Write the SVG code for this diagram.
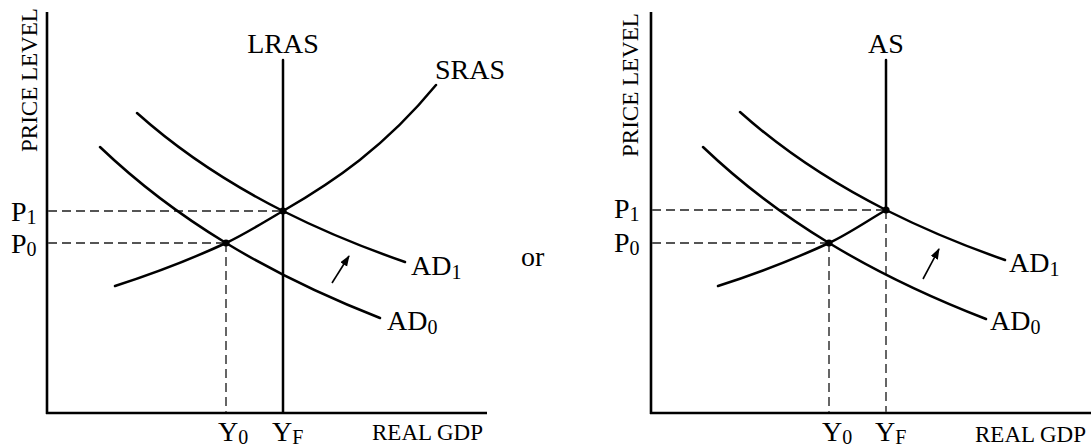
<svg xmlns="http://www.w3.org/2000/svg" width="1091" height="447" viewBox="0 0 1091 447">
<style>
.ax{stroke:#000;stroke-width:2.6;fill:none}
.cv{stroke:#000;stroke-width:2.5;fill:none;stroke-linecap:round}
.ds{stroke:#555;stroke-width:1.8;fill:none;stroke-dasharray:9 5}
.ar{stroke:#000;stroke-width:1.6;fill:none;marker-end:url(#ah)}
.lb{font-family:"Liberation Serif","Times New Roman",serif;font-size:28px;fill:#000}
.sm{font-family:"Liberation Serif","Times New Roman",serif;font-size:23px;fill:#000}
.sub{font-size:20px}
</style>
<defs>
<marker id="ah" markerUnits="userSpaceOnUse" markerWidth="12" markerHeight="10" refX="10" refY="4" orient="auto">
<path d="M0,0 L11,4 L0,8 Z" fill="#000"/>
</marker>
</defs>
<rect width="1091" height="447" fill="#fff"/>

<g id="left-graph">
<g id="left-axes">
<line class="ax" x1="47" y1="12" x2="47" y2="414"/>
<line class="ax" x1="46" y1="413" x2="487" y2="413"/>
<text class="sm" transform="translate(37,152) rotate(-90)">PRICE LEVEL</text>
<text class="sm" x="372" y="440">REAL GDP</text>
</g>
<g id="left-connectors">
<line class="ds" x1="48" y1="211" x2="283" y2="211"/>
<line class="ds" x1="48" y1="243" x2="226" y2="243"/>
<line class="ds" x1="226" y1="243" x2="226" y2="412"/>
<line class="cv" x1="283" y1="60" x2="283" y2="412"/>
<path class="cv" d="M115,286 C152,274.1 189,260.2 226,243 C245,234.2 264,222 283,211 C334,181.5 385,147 436,85"/>
<path class="cv" d="M137,113 C185.7,156.5 234.3,186.4 283,211 C323.7,231.5 364.3,247.9 405,262"/>
<path class="cv" d="M100,147 C142,187.1 184,217.5 226,243 C277.3,274.2 328.7,298 380,318"/>
<line class="ar" x1="332" y1="283" x2="349" y2="256"/>
<circle cx="226" cy="243" r="3.6"/>
<circle cx="283" cy="211" r="3.6"/>
</g>
<g id="left-labels">
<text class="lb" x="283" y="53" text-anchor="middle">LRAS</text>
<text class="lb" x="435" y="79">SRAS</text>
<text class="lb" x="11" y="221">P<tspan class="sub" dy="3">1</tspan></text>
<text class="lb" x="11" y="253">P<tspan class="sub" dy="3">0</tspan></text>
<text class="lb" x="411" y="275">AD<tspan class="sub" dy="4">1</tspan></text>
<text class="lb" x="387" y="330">AD<tspan class="sub" dy="4">0</tspan></text>
<text class="lb" x="218" y="441">Y<tspan class="sub" dy="3">0</tspan></text>
<text class="lb" x="272" y="441">Y<tspan class="sub" dy="3">F</tspan></text>
</g>
</g>

<g id="or-label">
<text class="lb" x="521" y="266">or</text>
</g>

<g id="right-graph">
<g id="right-axes">
<line class="ax" x1="651" y1="12" x2="651" y2="414"/>
<line class="ax" x1="650" y1="413" x2="1091" y2="413"/>
<text class="sm" transform="translate(638,157) rotate(-90)">PRICE LEVEL</text>
<text class="sm" x="975" y="442">REAL GDP</text>
</g>
<g id="right-connectors" transform="translate(603,-1)">
<line class="ds" x1="49" y1="211" x2="283" y2="211"/>
<line class="ds" x1="49" y1="244" x2="226" y2="244"/>
<line class="ds" x1="226" y1="244" x2="226" y2="413"/>
<line class="ds" x1="283" y1="211" x2="283" y2="413"/>
<line class="cv" x1="283" y1="61" x2="283" y2="211"/>
<path class="cv" d="M115,287 C152,275.1 189,261.2 226,244 C245,235.2 264,222 283,211"/>
<path class="cv" d="M137,113 C185.7,156.5 234.3,186.4 283,211 C323.7,231.5 364.3,247.9 402,261"/>
<path class="cv" d="M100,148 C142,188.1 184,218.5 226,244 C277.3,275.2 328.7,299 383,320"/>
<line class="ar" x1="320" y1="280" x2="336" y2="250"/>
<circle cx="226" cy="244" r="3.6"/>
<circle cx="283" cy="211" r="3.6"/>
</g>
<g id="right-labels">
<text class="lb" x="886" y="53" text-anchor="middle">AS</text>
<text class="lb" x="614" y="218">P<tspan class="sub" dy="3">1</tspan></text>
<text class="lb" x="614" y="252">P<tspan class="sub" dy="3">0</tspan></text>
<text class="lb" x="1009" y="272">AD<tspan class="sub" dy="4">1</tspan></text>
<text class="lb" x="990" y="330">AD<tspan class="sub" dy="4">0</tspan></text>
<text class="lb" x="822" y="441">Y<tspan class="sub" dy="3">0</tspan></text>
<text class="lb" x="875" y="441">Y<tspan class="sub" dy="3">F</tspan></text>
</g>
</g>
</svg>
